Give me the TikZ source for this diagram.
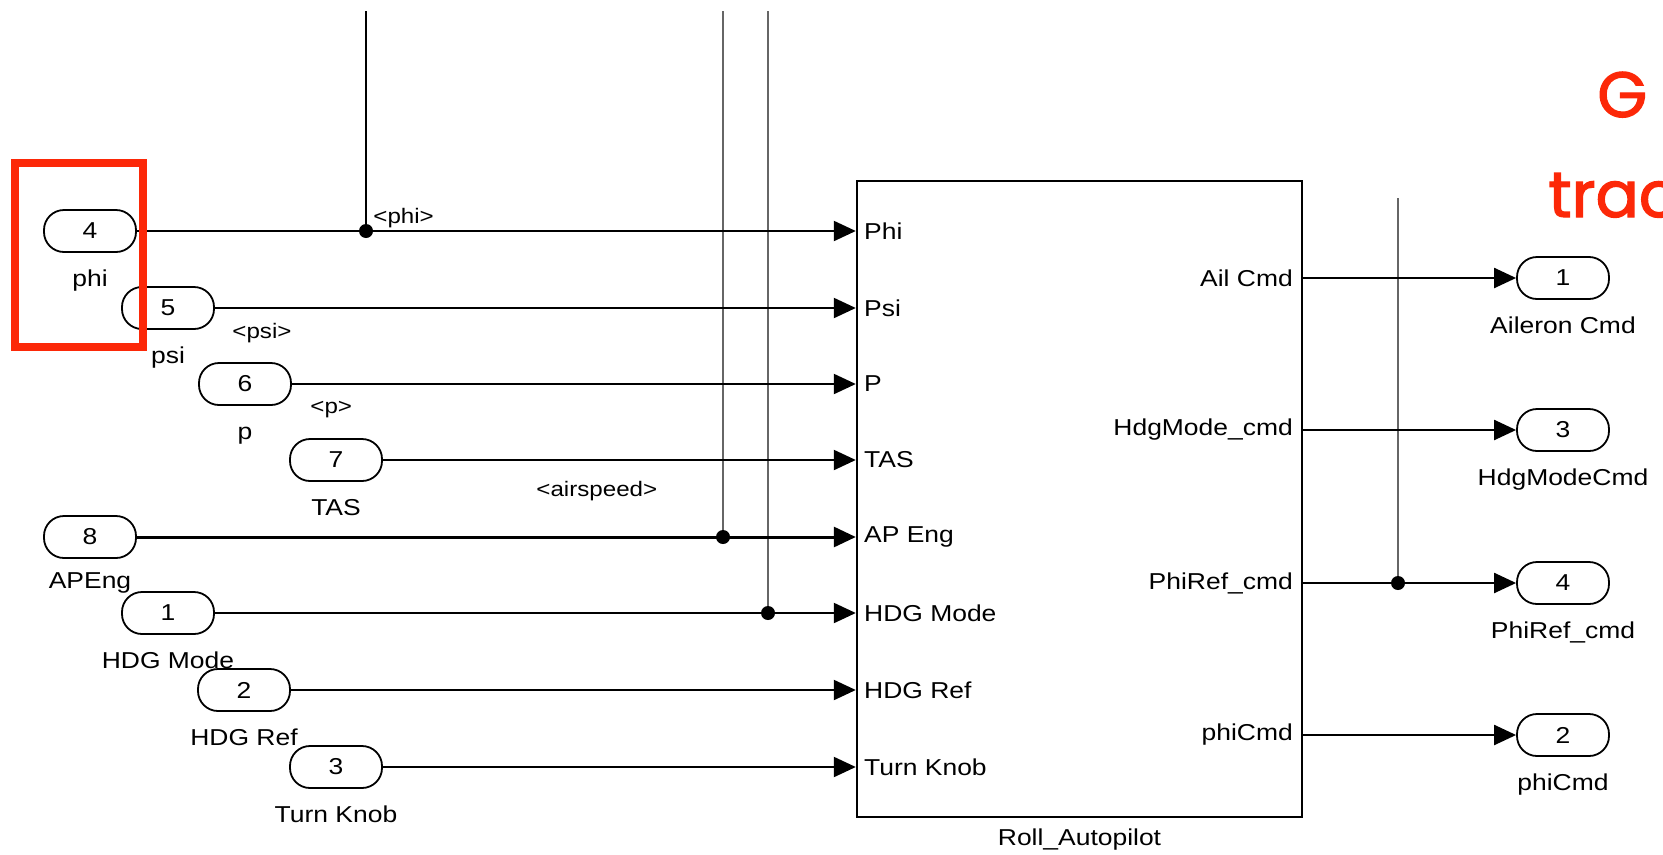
\documentclass[tikz,border=0pt]{standalone}
\usepackage{fontspec}
\setmainfont[FakeStretch=1.15]{Liberation Sans}
\newfontfamily\handfont[FakeBold=2]{Poppins}
\usetikzlibrary{arrows.meta}
\definecolor{redmark}{RGB}{252,40,8}
\begin{document}
\begin{tikzpicture}[x=0.5bp, y=-0.5bp,
  lbl/.style={font=\fontsize{11.5bp}{13bp}\selectfont, inner sep=0pt},
  port/.style={draw, line width=0.9bp, rounded corners=10bp, minimum width=46bp, minimum height=21bp, inner sep=0pt, font=\fontsize{11.5bp}{13bp}\selectfont},
  sig/.style={line width=1.1bp},
  arr/.style={sig, -{Triangle[length=11bp,width=10bp]}},
  pass/.style={line width=1.3bp, draw=black!60},
  dot/.style={circle, fill, inner sep=0pt, minimum size=7bp},
  blk/.style={draw, line width=1.2bp, minimum width=222.5bp, minimum height=318bp, inner sep=0pt},
  siglbl/.style={font=\fontsize{10.5bp}{12bp}\selectfont, inner sep=0pt, anchor=base west},
  hand/.style={text=redmark, inner sep=0pt, anchor=base west, font=\handfont\fontsize{32bp}{36bp}\selectfont},
]
\useasboundingbox (0,0) rectangle (1663,854);

% inports
\node[port] (p4) at (90,231) {4};
\node[lbl, anchor=base] (p4l) at (90,286) {phi};
\node[port] (p5) at (168,308) {5};
\node[lbl, anchor=base] (p5l) at (168,363) {psi};
\node[port] (p6) at (245,384) {6};
\node[lbl, anchor=base] (p6l) at (245,439) {p};
\node[port] (p7) at (336,460) {7};
\node[lbl, anchor=base] (p7l) at (336,515) {TAS};
\node[port] (p8) at (90,537) {8};
\node[lbl, anchor=base] (p8l) at (90,588) {APEng};
\node[port] (p1) at (168,613) {1};
\node[lbl, anchor=base] (p1l) at (168,668) {HDG Mode};
\node[port] (p2) at (244,690) {2};
\node[lbl, anchor=base] (p2l) at (244,745) {HDG Ref};
\node[port] (p3) at (336,767) {3};
\node[lbl, anchor=base] (p3l) at (336,822) {Turn Knob};

% block
\node[blk] (ra) at (1079.5,499) {};
\node[lbl, anchor=north] (ral) at ([yshift=-5bp]ra.south) {Roll\_Autopilot};

% input port labels inside the block
\node[lbl, anchor=west] (iPhi) at ([xshift=4bp]ra.west |- p4) {Phi};
\node[lbl, anchor=west] (iPsi) at ([xshift=4bp]ra.west |- p5) {Psi};
\node[lbl, anchor=west] (iP) at ([xshift=4bp]ra.west |- p6) {P};
\node[lbl, anchor=west] (iTAS) at ([xshift=4bp]ra.west |- p7) {TAS};
\node[lbl, anchor=west] (iAP) at ([xshift=4bp]ra.west |- p8) {AP Eng};
\node[lbl, anchor=west] (iHM) at ([xshift=4bp]ra.west |- p1) {HDG Mode};
\node[lbl, anchor=west] (iHR) at ([xshift=4bp]ra.west |- p2) {HDG Ref};
\node[lbl, anchor=west] (iTK) at ([xshift=4bp]ra.west |- p3) {Turn Knob};

% outports
\node[port] (o1) at (1563,278) {1};
\node[lbl, anchor=base] (o1l) at (1563,333) {Aileron Cmd};
\node[port] (o3) at (1563,430) {3};
\node[lbl, anchor=base] (o3l) at (1563,485) {HdgModeCmd};
\node[port] (o4) at (1563,583) {4};
\node[lbl, anchor=base] (o4l) at (1563,638) {PhiRef\_cmd};
\node[port] (o2) at (1563,735) {2};
\node[lbl, anchor=base] (o2l) at (1563,790) {phiCmd};

% output port labels inside the block
\node[lbl, anchor=east] (qAil) at ([xshift=-5bp]ra.east |- o1) {Ail Cmd};
\node[lbl, anchor=east] (qHdg) at ([xshift=-5bp]ra.east |- o3) {HdgMode\_cmd};
\node[lbl, anchor=east] (qPhiRef) at ([xshift=-5bp]ra.east |- o4) {PhiRef\_cmd};
\node[lbl, anchor=east] (qphi) at ([xshift=-5bp]ra.east |- o2) {phiCmd};

% pass-through vertical lines
\coordinate (t1) at (366,11);
\coordinate (t2) at (723,11);
\coordinate (t3) at (768,11);
\coordinate (t4) at (1398,198);
\draw[pass] (t2) -- (t2 |- p8);
\draw[pass] (t3) -- (t3 |- p1);
\draw[pass] (t4) -- (t4 |- o4);
\draw[sig] (t1) -- (t1 |- p4);

% input signals
\draw[arr] (p4.east) -- (p4.east -| ra.west);
\draw[arr] (p5.east) -- (p5.east -| ra.west);
\draw[arr] (p6.east) -- (p6.east -| ra.west);
\draw[arr] (p7.east) -- (p7.east -| ra.west);
\draw[arr, line width=1.5bp] (p8.east) -- (p8.east -| ra.west);
\draw[arr] (p1.east) -- (p1.east -| ra.west);
\draw[arr] (p2.east) -- (p2.east -| ra.west);
\draw[arr] (p3.east) -- (p3.east -| ra.west);

% output signals
\draw[arr] (ra.east |- o1) -- (o1.west);
\draw[arr] (ra.east |- o3) -- (o3.west);
\draw[arr] (ra.east |- o4) -- (o4.west);
\draw[arr] (ra.east |- o2) -- (o2.west);

% junction dots
\node[dot] (j1) at (t1 |- p4) {};
\node[dot] (j2) at (t2 |- p8) {};
\node[dot] (j3) at (t3 |- p1) {};
\node[dot] (j4) at (t4 |- o4) {};

% signal name labels
\node[siglbl] (sphi) at (373,223) {<phi>};
\node[siglbl] (spsi) at (232,338) {<psi>};
\node[siglbl] (sp) at (310,413) {<p>};
\node[siglbl] (sair) at (536,496) {<airspeed>};

% red annotation
\node[draw=redmark, line width=4bp, minimum width=64bp, minimum height=92bp, inner sep=0pt] (hl) at (79,255) {};
\node[hand] (g) at (1597,117) {G};
\node[hand] (trac) at (1548,217) {trac};
\end{tikzpicture}
\end{document}
